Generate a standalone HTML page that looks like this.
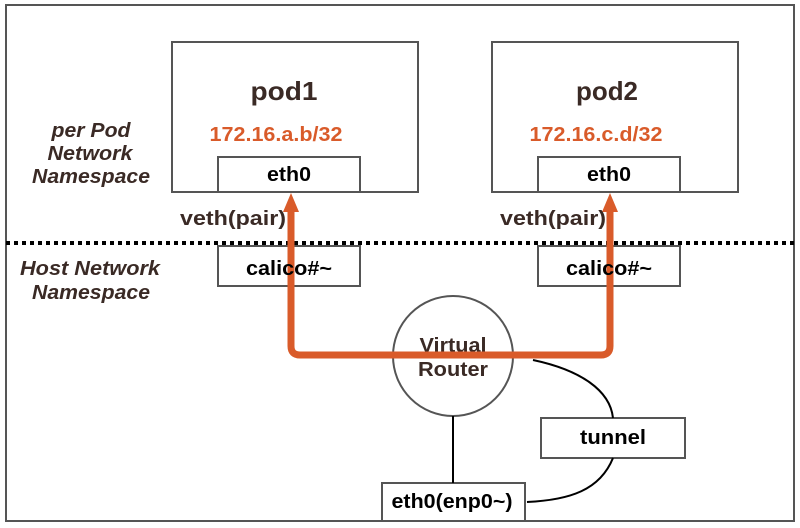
<!DOCTYPE html>
<html><head><style>
body{margin:0;background:#fff;}
svg{display:block;}
text{font-family:"Liberation Sans",sans-serif;font-weight:bold;}
</style></head><body>
<svg width="800" height="528" viewBox="0 0 800 528">
<rect x="6" y="5" width="788" height="516" fill="#fff" stroke="#555" stroke-width="2"/>
<line x1="6" y1="243" x2="794" y2="243" stroke="#000" stroke-width="4" stroke-dasharray="4,4"/>
<g fill="#fff" stroke="#555" stroke-width="2">
<rect x="172" y="42" width="246" height="150"/>
<rect x="218" y="157" width="142" height="35"/>
<rect x="492" y="42" width="246" height="150"/>
<rect x="538" y="157" width="142" height="35"/>
<rect x="218" y="246" width="142" height="40"/>
<rect x="538" y="246" width="142" height="40"/>
<circle cx="453" cy="356" r="60"/>
<rect x="541" y="418" width="144" height="40"/>
<rect x="382" y="483" width="143" height="38"/>
</g>
<g fill="none" stroke="#000" stroke-width="2">
<line x1="453" y1="416" x2="453" y2="483"/>
<path d="M533 360 C580 370 610 390 613 418"/>
<path d="M613 458 C600 490 570 500 527 502"/>
</g>
<g fill="#3a2a25" text-anchor="middle">
<text x="453" y="352" font-size="20" textLength="67" lengthAdjust="spacingAndGlyphs">Virtual</text>
<text x="453" y="376" font-size="20" textLength="70" lengthAdjust="spacingAndGlyphs">Router</text>
</g>
<path d="M291 210 L291 346 Q291 355 300 355 L601 355 Q610 355 610 346 L610 210" fill="none" stroke="#d95b2a" stroke-width="7"/>
<polygon points="291,193 283,212 299,212" fill="#d95b2a"/>
<polygon points="610,193 602,212 618,212" fill="#d95b2a"/>
<g fill="#3a2a25" text-anchor="middle">
<text x="284" y="100" font-size="26" textLength="67" lengthAdjust="spacingAndGlyphs">pod1</text>
<text x="607" y="100" font-size="26" textLength="62" lengthAdjust="spacingAndGlyphs">pod2</text>
<text x="233" y="225" font-size="20" textLength="106" lengthAdjust="spacingAndGlyphs">veth(pair)</text>
<text x="553" y="225" font-size="20" textLength="106" lengthAdjust="spacingAndGlyphs">veth(pair)</text>
</g>
<g fill="#d95b2a" text-anchor="middle" font-size="20">
<text x="276" y="141" textLength="133" lengthAdjust="spacingAndGlyphs">172.16.a.b/32</text>
<text x="596" y="141" textLength="133" lengthAdjust="spacingAndGlyphs">172.16.c.d/32</text>
</g>
<g fill="#000" text-anchor="middle" font-size="20">
<text x="289" y="181" textLength="44" lengthAdjust="spacingAndGlyphs">eth0</text>
<text x="609" y="181" textLength="44" lengthAdjust="spacingAndGlyphs">eth0</text>
<text x="289" y="275" textLength="86" lengthAdjust="spacingAndGlyphs">calico#~</text>
<text x="609" y="275" textLength="86" lengthAdjust="spacingAndGlyphs">calico#~</text>
<text x="613" y="444" textLength="66" lengthAdjust="spacingAndGlyphs">tunnel</text>
<text x="452" y="508" textLength="121" lengthAdjust="spacingAndGlyphs">eth0(enp0~)</text>
</g>
<g fill="#3a2a25" text-anchor="middle" font-size="20" font-style="italic">
<text x="91" y="137" textLength="79" lengthAdjust="spacingAndGlyphs">per Pod</text>
<text x="90" y="160" textLength="85" lengthAdjust="spacingAndGlyphs">Network</text>
<text x="91" y="183" textLength="118" lengthAdjust="spacingAndGlyphs">Namespace</text>
<text x="90" y="275" textLength="140" lengthAdjust="spacingAndGlyphs">Host Network</text>
<text x="91" y="299" textLength="118" lengthAdjust="spacingAndGlyphs">Namespace</text>
</g>
</svg>
</body></html>
